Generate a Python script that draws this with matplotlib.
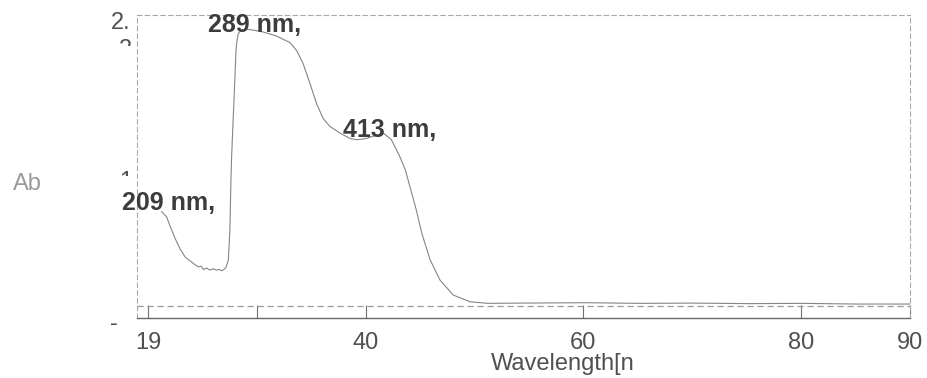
import matplotlib
matplotlib.use('Agg')
import matplotlib.pyplot as plt
from matplotlib.transforms import Bbox

# ---- data ----
wavelength = [212.6, 217.2, 220.4, 224.9, 229.5, 234.1, 237.0, 240.3, 243.4, 246.4,
              248.9, 250.9, 253.9, 257.1, 259.9, 263.2, 265.4, 267.8, 269.8, 271.7,
              273.9, 275.3, 276.3, 276.9, 278.3, 279.1, 280.1, 280.9, 281.9, 283.1,
              286.2, 292.2, 299.9, 306.0, 318.1, 330.6, 336.7, 342.7, 349.0, 355.0,
              361.0, 367.2, 376.5, 385.6, 391.8, 400.8, 410.1, 416.2, 423.7, 431.6,
              436.6, 440.6, 446.6, 451.5, 459.1, 468.3, 480.4, 495.9, 512.3, 542.2,
              602.0, 651.7, 701.5, 751.3, 801.0, 850.8, 900.0]
absorbance = [0.71, 0.67, 0.60, 0.51, 0.43, 0.37, 0.35, 0.33, 0.31, 0.295,
              0.30, 0.275, 0.285, 0.27, 0.28, 0.27, 0.275, 0.265, 0.275, 0.29,
              0.345, 0.57, 0.95, 1.12, 1.40, 1.55, 1.75, 1.92, 2.00, 2.05,
              2.075, 2.08, 2.07, 2.06, 2.03, 1.98, 1.92, 1.82, 1.67, 1.52,
              1.41, 1.35, 1.30, 1.26, 1.25, 1.26, 1.285, 1.30, 1.25, 1.12,
              1.02, 0.90, 0.72, 0.55, 0.35, 0.195, 0.083, 0.032, 0.02, 0.022,
              0.025, 0.02, 0.022, 0.018, 0.02, 0.015, 0.015]

peak_labels = ["209 nm,", "289 nm,", "413 nm,"]
peak_label_x = [176.2, 255.2, 379.2]
peak_label_y = [0.72, 2.06, 1.27]

x_tick_pos = [200, 300, 400, 600, 800, 900]
x_tick_labels = ["19", "", "40", "60", "80", "90"]

W, H = 928, 378
fig = plt.figure(figsize=(W / 100, H / 100), dpi=100)
fig.patch.set_facecolor('white')
ax = fig.add_axes([137 / W, (H - 318) / H, (910 - 137) / W, (318 - 15) / H])

ax.plot(wavelength, absorbance, color='#858585', lw=0.8)
ax.axhline(0, color='#9a9a9a', lw=0.9, ls=(0, (5, 3)))

ax.set_xlim(190, 900)
ax.set_ylim(-0.09, 2.188)

for s in ['left', 'top', 'right']:
    ax.spines[s].set_linestyle((0, (4, 3)))
    ax.spines[s].set_color('#a8a8a8')
    ax.spines[s].set_linewidth(0.8)
ax.spines['bottom'].set_color('#6a6a6a')
ax.spines['bottom'].set_linewidth(1.0)

ax.set_xticks(x_tick_pos)
ax.set_xticklabels(x_tick_labels)
ax.tick_params(axis='x', which='major', direction='in', length=9.5, width=0.8,
               color='#707070', pad=10, labelsize=17, labelcolor='#505050')
for lab in ax.get_xticklabels():
    lab.set_fontfamily('Liberation Sans')
ax.set_yticks([])

for lbl, lx, ly in zip(peak_labels, peak_label_x, peak_label_y):
    ax.text(lx, ly, lbl, fontsize=18, fontweight='bold', color='#3c3c3c',
            family='Liberation Sans', va='baseline', ha='left', clip_on=False)

# axis titles
fig.text(563 / W, (H - 370) / H, "Wavelength[n", fontsize=17, color='#505050',
         family='Liberation Sans', ha='center', va='baseline')
fig.text(13 / W, (H - 190) / H, "Ab", fontsize=17, color='#999999',
         family='Liberation Sans', ha='left', va='baseline')

# y-axis label fragments
fig.text(111 / W, (H - 29) / H, "2.", fontsize=17, color='#505050',
         family='Liberation Sans', ha='left', va='baseline')
t2 = fig.text(119 / W, (H - 56) / H, "2", fontsize=17, color='#505050',
              family='Liberation Sans', ha='left', va='baseline')
t2.set_clip_box(Bbox([[110, H - 46], [140, H - 30]]))
t2.set_clip_on(True)
t1 = fig.text(119 / W, (H - 188) / H, "1", fontsize=17, color='#505050',
              family='Liberation Sans', ha='left', va='baseline')
t1.set_clip_box(Bbox([[110, H - 176], [140, H - 160]]))
t1.set_clip_on(True)
fig.text(110 / W, (H - 330) / H, "-", fontsize=17, color='#505050',
         family='Liberation Sans', ha='left', va='baseline')

fig.savefig('out.png', dpi=100, facecolor='white')
